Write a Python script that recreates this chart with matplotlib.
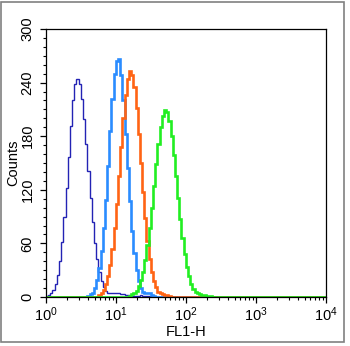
import numpy as np
import matplotlib
matplotlib.use("Agg")
import matplotlib.pyplot as plt
from matplotlib.patches import Rectangle
from matplotlib.ticker import FixedLocator, FixedFormatter, NullFormatter

plt.rcParams['font.family'] = ['Liberation Sans', 'DejaVu Sans']
plt.rcParams['mathtext.fontset'] = 'custom'
plt.rcParams['mathtext.rm'] = 'Liberation Sans'
plt.rcParams['mathtext.it'] = 'Liberation Sans'
plt.rcParams['mathtext.default'] = 'regular'

# histogram channels: 32 per decade over 4 decades
bins_per_decade = 32
n_bins = 128

# counts, starting at the given channel
navy_start = 0
navy_counts = [1, 2, 4, 8, 14, 25, 40, 62, 89, 122, 157, 191, 220, 238, 244,
               238, 222, 199, 171, 141, 111, 84, 61, 42, 28, 18, 11, 7, 5, 4,
               4, 5, 4, 4, 3, 3, 2, 2, 2, 1, 1, 1, 1, 2, 1, 1, 1, 1]

lightblue_start = 19
lightblue_counts = [1, 3, 5, 10, 19, 32, 51, 77, 109, 147, 186, 222, 250, 264,
                    266, 248, 220, 183, 144, 107, 74, 49, 30, 18, 10, 6, 4, 5,
                    4, 2, 1]

orange_start = 24
orange_counts = [2, 5, 8, 14, 23, 36, 54, 77, 104, 136, 168, 200, 226, 244,
                 253, 249, 235, 212, 182, 150, 118, 88, 63, 43, 28, 18, 11, 6,
                 4, 3, 2, 2, 1]

green_start = 38
green_counts = [1, 3, 4, 7, 12, 19, 28, 41, 58, 77, 100, 124, 149, 171, 190,
                203, 209, 207, 197, 180, 159, 135, 111, 87, 66, 48, 34, 23, 15,
                9, 6, 4, 3, 2, 2, 1, 1, 1]

series = [
    (navy_start, navy_counts, '#2323b4', 1.0),
    (lightblue_start, lightblue_counts, '#2a8cff', 1.9),
    (orange_start, orange_counts, '#ff6414', 1.9),
    (green_start, green_counts, '#22ee22', 1.9),
]

x_tick_vals = [1, 10, 100, 1000, 10000]
x_tick_labels = ['$10^{0}$', '$10^{1}$', '$10^{2}$', '$10^{3}$', '$10^{4}$']
y_tick_vals = [0, 60, 120, 180, 240, 300]

edges = 10 ** (np.arange(n_bins + 1) / bins_per_decade)

fig = plt.figure(figsize=(3.5, 3.46), dpi=100)
ax = fig.add_axes([0.131, 0.1416, 0.80, 0.7746])

for start, counts, color, lw in series:
    full = np.zeros(n_bins)
    full[start:start + len(counts)] = counts
    ax.stairs(full, edges, color=color, lw=lw, baseline=0)

ax.set_xscale('log')
ax.set_xlim(1, 10000)
ax.set_ylim(0, 300)

ax.xaxis.set_major_locator(FixedLocator(x_tick_vals))
ax.xaxis.set_major_formatter(FixedFormatter(x_tick_labels))
minor = [m * d for d in [1, 10, 100, 1000] for m in range(2, 10)]
ax.xaxis.set_minor_locator(FixedLocator(minor))
ax.xaxis.set_minor_formatter(NullFormatter())

ax.set_yticks(y_tick_vals)
ax.set_yticks(np.arange(0, 301, 10), minor=True)
for lab in ax.get_yticklabels():
    lab.set_rotation(90)
    lab.set_va('center')

ax.tick_params(axis='both', which='major', direction='out', length=4,
               width=0.9, labelsize=10.5, color='black')
ax.tick_params(axis='both', which='minor', direction='out', length=2.5,
               width=0.8)
ax.tick_params(axis='y', pad=4)
ax.tick_params(axis='x', pad=2)

for sp in ax.spines.values():
    sp.set_linewidth(0.9)

ax.set_xlabel('FL1-H', fontsize=10.5, labelpad=1)
ax.set_ylabel('Counts', fontsize=10.5, labelpad=0)

fig.patches.append(Rectangle((0.004, 0.012), 0.98, 0.982,
                             transform=fig.transFigure, fill=False,
                             edgecolor='#808080', lw=1.2))

fig.savefig('out.png', dpi=100)
